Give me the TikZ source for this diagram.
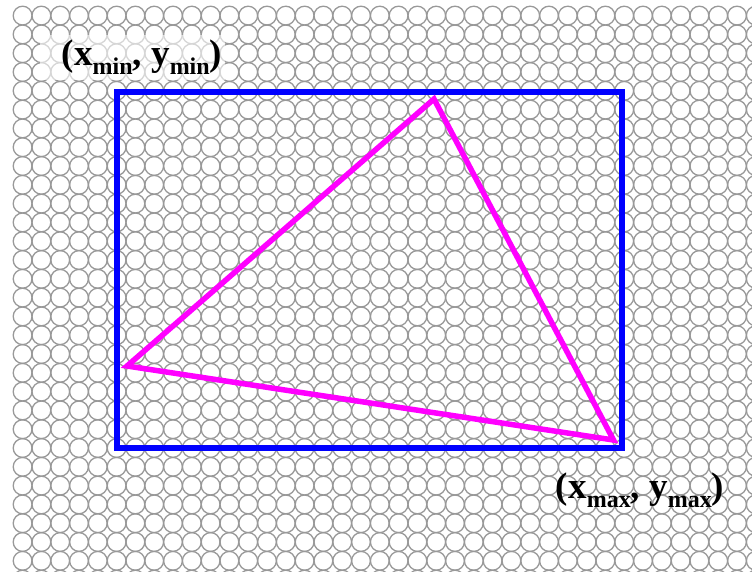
\documentclass[tikz,border=0pt]{standalone}
\usepackage{fontspec}
\setmainfont{Liberation Serif}
\definecolor{trimag}{RGB}{255,0,255}
\definecolor{boxblue}{RGB}{0,0,255}
\newcommand\lowsub[1]{\raisebox{-9pt}{\fontsize{24}{24}\selectfont\bfseries #1}}
\begin{document}
\begin{tikzpicture}[x=1pt,y=-1pt,
  gridcirc/.style={draw=gray!80, line width=1.3pt},
  bbox/.style={draw=boxblue, line width=6pt},
  tri/.style={draw=trimag, line width=5.5pt, line join=miter},
  lbl/.style={font=\fontsize{37}{40}\selectfont\bfseries, inner sep=0pt, anchor=base}]
\useasboundingbox (0,0) rectangle (752,571);
\fill[white] (0,0) rectangle (752,571);
\begin{scope}
  \clip (0,0) rectangle (752,571);
  \foreach \i in {0,...,39}
    \foreach \j in {0,...,30}
      \draw[gridcirc] (22.6+18.8*\i, 15.6+18.8*\j) circle[radius=9.4];
\end{scope}
% faded backdrop behind the upper label
\fill[white, opacity=0.6] (40,35) rectangle (225,80);
% bounding box
\coordinate (tl) at (117,92);
\coordinate (br) at (622,448);
\draw[bbox] (tl) rectangle (br);
% triangle
\coordinate (A) at (434,99);
\coordinate (B) at (127,366);
\coordinate (C) at (613.5,440);
\draw[tri] (A) -- (B) -- (C) -- cycle;
% labels
\node[lbl] (pmin) at (142,65) {(x\lowsub{min}, y\lowsub{min})};
\node[lbl] (pmax) at (640,498) {(x\lowsub{max}, y\lowsub{max})};
\end{tikzpicture}
\end{document}
